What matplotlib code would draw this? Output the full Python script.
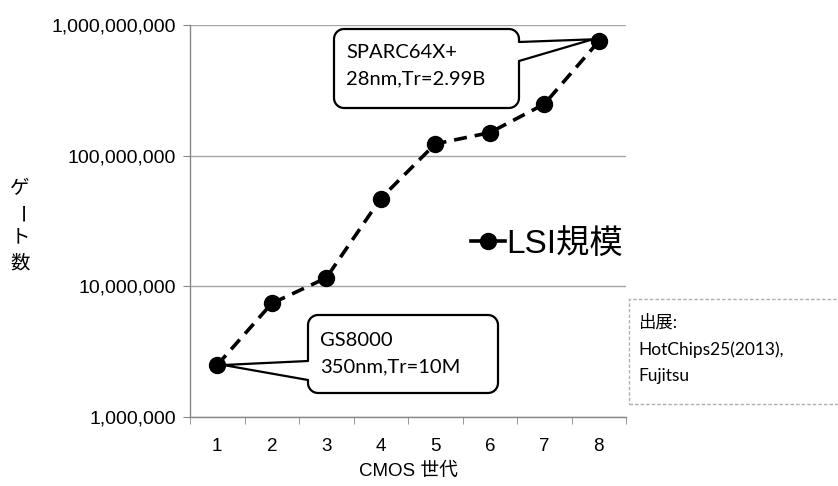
import numpy as np
import matplotlib
matplotlib.use("Agg")
import matplotlib.pyplot as plt
from matplotlib.path import Path
from matplotlib.patches import PathPatch, FancyBboxPatch
from matplotlib.ticker import FixedLocator, FuncFormatter, NullLocator

plt.rcParams['font.family'] = ['Liberation Sans', 'Noto Sans CJK JP', 'DejaVu Sans']

generations = [1, 2, 3, 4, 5, 6, 7, 8]
gates = [2.5e6, 7.4e6, 1.16e7, 4.7e7, 1.23e8, 1.5e8, 2.48e8, 7.5e8]
series_name = "LSI規模"
ytick_vals = [1e6, 1e7, 1e8, 1e9]
xlabel = "CMOS 世代"
ylabel = "ゲート数"
callout_top = "SPARC64X+\n28nm,Tr=2.99B"
callout_bottom = "GS8000\n350nm,Tr=10M"
source_text = "出展:\nHotChips25(2013),\nFujitsu"

W, H = 838, 486
fig = plt.figure(figsize=(W / 100, H / 100), dpi=100)
ax = fig.add_axes([190 / W, 1 - 417 / H, (626 - 190) / W, (417 - 25) / H])

line, = ax.plot(generations, gates, color='black', lw=2.6, ls=(0, (3.6, 2.2)),
                marker='o', ms=11.5, mfc='black', mec='black', label=series_name,
                zorder=3)
ax.set_yscale('log')
ax.set_ylim(1e6, 1e9)
ax.set_xlim(0.5, 8.5)

ax.yaxis.set_major_locator(FixedLocator(ytick_vals))
ax.yaxis.set_minor_locator(NullLocator())
ax.yaxis.set_major_formatter(FuncFormatter(lambda v, p: f"{int(round(v)):,}"))
ax.set_xticks(generations)
ax.set_xticks(np.arange(0.5, 8.6, 1.0), minor=True)
ax.tick_params(axis='x', which='major', length=0, pad=15, labelsize=13.5)
ax.tick_params(axis='x', which='minor', length=5, color='#888888', direction='out')
ax.tick_params(axis='y', which='major', length=5, color='#888888', labelsize=14, pad=5)

ax.grid(axis='y', color='#a6a6a6', lw=1.0)
for s in ['top', 'right']:
    ax.spines[s].set_visible(False)
for s in ['left', 'bottom']:
    ax.spines[s].set_color('#888888')
    ax.spines[s].set_linewidth(1.0)

ax.set_xlabel(xlabel, fontsize=13.5, labelpad=6,
              family=['Liberation Sans', 'Noto Sans CJK JP'])

# vertical y-axis title, one character per row
ylab_rows = [189, 215, 237, 263]
for ch, yy in zip(ylabel, ylab_rows):
    fig.text(20 / W, 1 - yy / H, ch, ha='center', va='center', fontsize=14,
             rotation=(-90 if ch == 'ー' else 0), family=['Noto Sans CJK JP'])

leg = ax.legend(loc='center left', bbox_to_anchor=(458 / W, 1 - 244 / H),
                bbox_transform=fig.transFigure, frameon=False,
                handlelength=1.0, handletextpad=0.05, borderaxespad=0,
                prop={'family': ['Liberation Sans', 'Noto Sans CJK JP'], 'size': 24})
for h in leg.legend_handles:
    h.set_linestyle('-')


def callout(x0, y0, x1, y1, r, side, wa, wb, tip):
    def arc(cx, cy, a0, a1):
        t = np.linspace(np.radians(a0), np.radians(a1), 10)
        return [(cx + r * np.cos(tt), cy + r * np.sin(tt)) for tt in t]
    pts = []
    pts += arc(x0 + r, y0 + r, 180, 270)
    pts += arc(x1 - r, y0 + r, 270, 360)
    if side == 'right':
        pts += [(x1, wa), tip, (x1, wb)]
    pts += arc(x1 - r, y1 - r, 0, 90)
    pts += arc(x0 + r, y1 - r, 90, 180)
    if side == 'left':
        pts += [(x0, wb), tip, (x0, wa)]
    pts.append(pts[0])
    verts = [(px, H - py) for px, py in pts]
    codes = [Path.MOVETO] + [Path.LINETO] * (len(verts) - 2) + [Path.CLOSEPOLY]
    patch = PathPatch(Path(verts, codes), facecolor='white', edgecolor='black',
                      lw=1.6, transform=None, zorder=5, joinstyle='round')
    fig.add_artist(patch)


def data_px(x, y):
    dx, dy = ax.transData.transform((x, y))
    return (dx, H - dy)


tip8 = data_px(generations[-1], gates[-1])
tip8 = (tip8[0] - 6, tip8[1] - 2)
callout(334, 29, 519, 108, 10, 'right', 42, 61, tip8)
fig.text(346 / W, 1 - 66 / H, callout_top, ha='left', va='center', fontsize=14.5,
         linespacing=1.65, family=['Lato'], zorder=6)

tip1 = data_px(generations[0], gates[0])
tip1 = (tip1[0] + 6, tip1[1])
callout(308, 315, 498, 393, 10, 'left', 361, 380, tip1)
fig.text(320 / W, 1 - 354 / H, callout_bottom, ha='left', va='center', fontsize=14.5,
         linespacing=1.65, family=['Lato'], zorder=6)

src = FancyBboxPatch((629, H - 404), 215, 105, boxstyle='square,pad=0',
                     facecolor='white', edgecolor='#b0b0b0', lw=1.0,
                     linestyle=(0, (2.5, 1.5)), transform=None, zorder=4)
fig.add_artist(src)
fig.text(638 / W, 1 - 349 / H, source_text, ha='left', va='center', fontsize=12.5,
         linespacing=1.8, family=['Lato', 'Noto Sans CJK JP'], zorder=6)

fig.savefig('out.png', dpi=100)
